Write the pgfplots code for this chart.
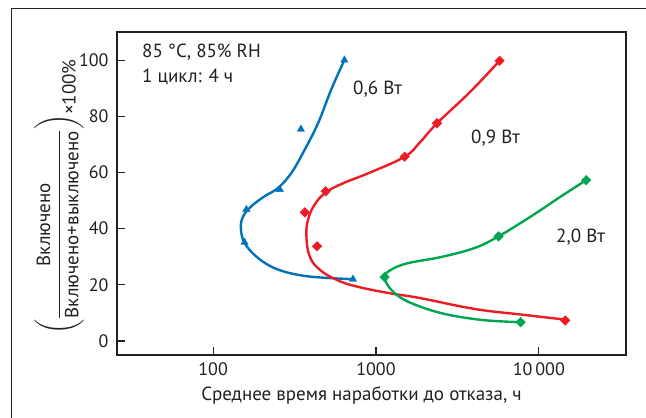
\documentclass[border=0pt]{standalone}
\usepackage{amsmath}
\usepackage{fontspec}
\setmainfont{PT Sans}
\usepackage{pgfplots}
\pgfplotsset{compat=1.18}
\definecolor{cblue}{RGB}{0,114,188}
\definecolor{cred}{RGB}{237,28,36}
\definecolor{cgreen}{RGB}{0,166,81}
\definecolor{ctext}{RGB}{35,31,32}
\begin{document}
\fontsize{19bp}{22bp}\selectfont
\begin{tikzpicture}
\useasboundingbox (0,0) rectangle (646bp,-418bp);
\draw[line width=1bp, color=ctext] (11bp,-420bp) -- (11bp,-8bp) -- (648bp,-8bp);
\begin{axis}[
  at={(117bp,-355bp)}, anchor=south west,
  scale only axis, width=509bp, height=323bp,
  xmode=log, xmin=25.7, xmax=34300,
  ymin=-5, ymax=110,
  xtick={100,1000,10000}, xticklabels={100,1000,10\,000},
  ytick={0,20,40,60,80,100}, yticklabels={0,20,40,60,80,100},
  xminorticks=false,
  tick pos=left, tick align=inside,
  major tick length=8bp,
  every tick/.style={line width=1.1bp, color=ctext},
  axis line style={line width=1.2bp, color=ctext},
  ticklabel style={font=\fontsize{18bp}{21bp}\selectfont, color=ctext},
  yticklabel style={xshift=-2bp},
  xticklabel style={yshift=-1bp},
  label style={font=\fontsize{19bp}{22bp}\selectfont, color=ctext},
  xlabel={Среднее время наработки до отказа, ч},
  xlabel style={xshift=-10bp, yshift=2bp},
  ylabel={$\left(\dfrac{\text{Включено}}{\text{Включено+выключено}}\right)$\raisebox{-0.6em}{×100\%}},
  ylabel style={at={(axis description cs:-0.114,0.489)}, anchor=center},
]
\draw[line width=2bp, color=ctext] (rel axis cs:0,0) -- (rel axis cs:1,0);
% blue 0.6 W
\addplot[cblue, line width=2.4bp, smooth, tension=0.6] coordinates {
(722,22)(383,23)(251,25.4)(189,29.5)(156,34.9)(148,40.3)(153,44.4)(172,48)(207,51.5)(251,54.5)(303,59.9)(366,68.2)(443,77.8)(532,89.6)(640,100)};
\addplot[cblue, only marks, mark=triangle*, mark size=4.2bp] coordinates {
(640,100)(346,75.4)(257,53.9)(160,46.8)(156,35.1)(722,22)};
% red 0.9 W
\addplot[cred, line width=2.4bp, smooth, tension=0.7] coordinates {
(5740,99.75)(3760,88.5)(2370,77.5)(1855,70.6)(1500,65.6)(914,59.9)(620,56)(491,52.8)(421,48.6)(383,43.2)(374,37.3)(392,30.1)(451,25.4)(572,21.8)(759,19.4)(1213,17)(1854,15.3)(4035,11.4)(7800,9.4)(14520,7.6)};
\addplot[cred, only marks, mark=square*, mark size=3.4bp, mark options={rotate=45}] coordinates {
(5740,99.75)(2370,77.5)(1500,65.6)(491,53.3)(366,45.8)(435,33.7)(14520,7.3)};
% green 2.0 W
\addplot[cgreen, line width=2.4bp, smooth, tension=0.6] coordinates {
(19540,57.25)(13700,51.5)(8980,44.4)(5660,37.25)(4035,33.1)(2520,29.9)(1572,27.7)(1242,25.4)(1130,22.75)(1242,18.2)(1572,14)(2520,9.9)(4436,7.5)(7730,6.68)};
\addplot[cgreen, only marks, mark=square*, mark size=3.4bp, mark options={rotate=45}] coordinates {
(19540,57.25)(5660,37.25)(1130,22.75)(7730,6.68)};
\end{axis}
\begin{scope}[every node/.style={inner sep=0pt, anchor=base west, text=ctext, font=\fontsize{19bp}{22bp}\selectfont}]
\node at (142bp,-57bp) {85 °C, 85\% RH};
\node at (142bp,-82bp) {1 цикл: 4 ч};
\node at (353bp,-94bp) {0,6 Вт};
\node at (471bp,-143bp) {0,9 Вт};
\node at (556bp,-242bp) {2,0 Вт};
\end{scope}
\end{tikzpicture}
\end{document}
